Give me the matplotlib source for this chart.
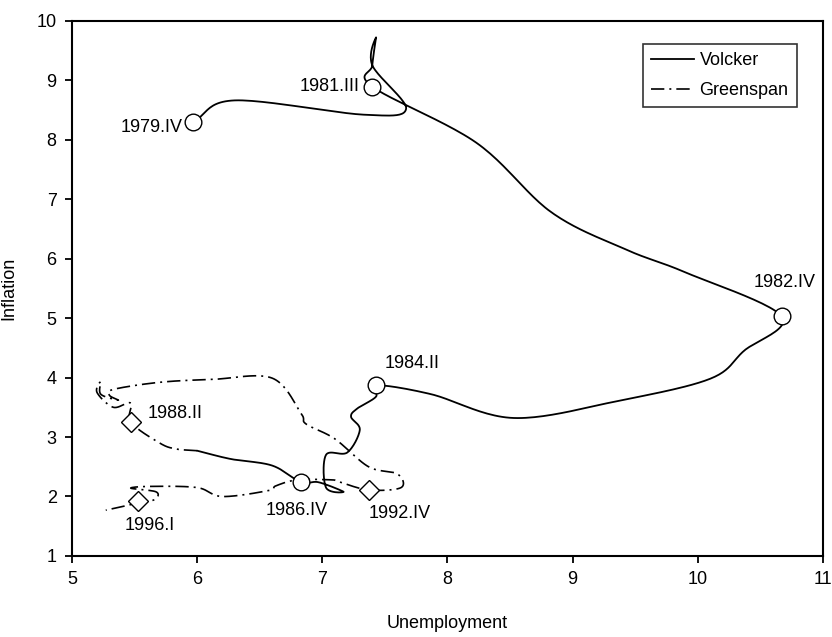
import numpy as np
import matplotlib
matplotlib.use("Agg")
import matplotlib.pyplot as plt
from matplotlib import font_manager as fm
from matplotlib.lines import Line2D

names = {f.name for f in fm.fontManager.ttflist}
fam = [n for n in ["Liberation Sans Narrow", "Liberation Sans", "DejaVu Sans"] if n in names]
plt.rcParams['font.family'] = fam

# ---------------- data (quarterly) ----------------
volcker_quarters = ["1979.IV", "1980.I", "1980.II", "1980.III", "1980.IV",
                    "1981.I", "1981.II", "1981.III", "1981.IV",
                    "1982.I", "1982.II", "1982.III", "1982.IV",
                    "1983.I", "1983.II", "1983.III", "1983.IV",
                    "1984.I", "1984.II", "1984.III", "1984.IV",
                    "1985.I", "1985.II", "1985.III", "1985.IV",
                    "1986.I", "1986.II", "1986.III", "1986.IV",
                    "1987.I", "1987.II", "1987.III"]
volcker_unemp = [5.97, 6.30, 7.33, 7.67, 7.40, 7.43, 7.40, 7.40, 8.23,
                 8.83, 9.43, 9.90, 10.67, 10.37, 10.10, 9.37, 8.53,
                 7.87, 7.43, 7.43, 7.28, 7.23, 7.30, 7.20, 7.03,
                 7.03, 7.17, 6.97, 6.83, 6.60, 6.27, 6.00]
volcker_infl = [8.30, 8.66, 8.42, 8.52, 9.25, 9.72, 9.25, 8.89, 7.95,
                6.78, 6.15, 5.77, 5.03, 4.45, 3.98, 3.61, 3.32,
                3.72, 3.87, 3.68, 3.48, 3.34, 3.12, 2.74, 2.70,
                2.15, 2.08, 2.24, 2.24, 2.52, 2.63, 2.77]

greenspan_quarters = ["1987.III", "1987.IV",
                      "1988.I", "1988.II", "1988.III", "1988.IV",
                      "1989.I", "1989.II", "1989.III", "1989.IV",
                      "1990.I", "1990.II", "1990.III", "1990.IV",
                      "1991.I", "1991.II", "1991.III", "1991.IV",
                      "1992.I", "1992.II", "1992.III", "1992.IV",
                      "1993.I", "1993.II", "1993.III", "1993.IV",
                      "1994.I", "1994.II", "1994.III", "1994.IV",
                      "1995.I", "1995.II", "1995.III", "1995.IV",
                      "1996.I", "1996.II", "1996.III"]
greenspan_unemp = [6.00, 5.83, 5.70, 5.47, 5.47, 5.33, 5.20, 5.23, 5.23, 5.37,
                   5.30, 5.33, 5.70, 6.13, 6.60, 6.83, 6.87, 7.10,
                   7.37, 7.60, 7.63, 7.37, 7.13, 7.07, 6.80, 6.63,
                   6.57, 6.20, 6.00, 5.63, 5.47, 5.67, 5.67, 5.57,
                   5.53, 5.50, 5.27]
greenspan_infl = [2.77, 2.80, 2.90, 3.25, 3.57, 3.50, 3.75, 3.93, 3.72, 3.62,
                  3.70, 3.80, 3.92, 3.97, 3.99, 3.40, 3.22, 2.97,
                  2.50, 2.38, 2.15, 2.11, 2.25, 2.28, 2.28, 2.18,
                  2.10, 2.00, 2.15, 2.17, 2.14, 2.08, 1.96, 1.90,
                  1.93, 1.88, 1.77]

volcker_marked = ["1979.IV", "1981.III", "1982.IV", "1984.II", "1986.IV"]
greenspan_marked = ["1988.II", "1992.IV", "1996.I"]

x_ticks = [5, 6, 7, 8, 9, 10, 11]
y_ticks = [1, 2, 3, 4, 5, 6, 7, 8, 9, 10]

# label placement (offset in points, horizontal alignment)
label_style = {
    "1979.IV": ((-8, -4), "right"),
    "1981.III": ((-9, 0), "right"),
    "1982.IV": ((2, 24), "center"),
    "1984.II": ((6, 16), "left"),
    "1986.IV": ((-3, -20), "center"),
    "1988.II": ((12, 6), "left"),
    "1992.IV": ((0, -17), "left"),
    "1996.I": ((8, -18), "center"),
}


def smooth(x, y, n=24):
    """Catmull-Rom smoothing through the data points (like a smoothed line chart)."""
    P = np.column_stack([x, y]).astype(float)
    P = np.vstack([P[0] - (P[1] - P[0]), P, P[-1] + (P[-1] - P[-2])])
    out = []
    t = np.linspace(0, 1, n, endpoint=False)[:, None]
    for i in range(1, len(P) - 2):
        p0, p1, p2, p3 = P[i - 1], P[i], P[i + 1], P[i + 2]
        seg = 0.5 * ((2 * p1) + (-p0 + p2) * t + (2 * p0 - 5 * p1 + 4 * p2 - p3) * t ** 2
                     + (-p0 + 3 * p1 - 3 * p2 + p3) * t ** 3)
        out.append(seg)
    out.append(P[-2][None, :])
    out = np.vstack(out)
    return out[:, 0], out[:, 1]


fig = plt.figure(figsize=(8.32, 6.37), dpi=100)
ax = fig.add_axes([0.0865, 0.1272, 0.9025, 0.8403])

dash = (0, (8, 3, 1.2, 3))

vx, vy = smooth(volcker_unemp, volcker_infl)
gx, gy = smooth(greenspan_unemp, greenspan_infl)
ax.plot(vx, vy, color="black", lw=1.3, solid_capstyle="round", zorder=2)
ax.plot(gx, gy, color="black", lw=1.2, linestyle=dash, zorder=2)

fs = 13
for q in volcker_marked:
    i = volcker_quarters.index(q)
    ax.plot(volcker_unemp[i], volcker_infl[i], marker="o", ms=12, mfc="white",
            mec="black", mew=1.0, zorder=4)
    off, ha = label_style[q]
    ax.annotate(q, (volcker_unemp[i], volcker_infl[i]), xytext=off,
                textcoords="offset points", ha=ha, va="center", fontsize=fs, zorder=5)
for q in greenspan_marked:
    i = greenspan_quarters.index(q)
    ax.plot(greenspan_unemp[i], greenspan_infl[i], marker="D", ms=10, mfc="white",
            mec="black", mew=1.0, zorder=4)
    off, ha = label_style[q]
    ax.annotate(q, (greenspan_unemp[i], greenspan_infl[i]), xytext=off,
                textcoords="offset points", ha=ha, va="center", fontsize=fs, zorder=5)

ax.set_xlim(5, 11)
ax.set_ylim(1, 10)
ax.set_xticks(x_ticks)
ax.set_yticks(y_ticks)
ax.tick_params(direction="out", length=5, width=1.3, labelsize=fs, pad=6)
for s in ax.spines.values():
    s.set_linewidth(1.5)
ax.set_xlabel("Unemployment", fontsize=fs, labelpad=19)
ax.set_ylabel("Inflation", fontsize=fs, labelpad=14)

handles = [Line2D([], [], color="black", lw=1.3),
           Line2D([], [], color="black", lw=1.2, linestyle=dash)]
leg = ax.legend(handles, ["Volcker", "Greenspan"], loc="upper right",
                bbox_to_anchor=(0.965, 0.956), borderaxespad=0, fontsize=fs,
                frameon=True, fancybox=False, handlelength=2.4, handletextpad=0.3,
                borderpad=0.45, labelspacing=0.7)
leg.get_frame().set_edgecolor("black")
leg.get_frame().set_linewidth(1.2)

fig.savefig("out.png", dpi=100)
